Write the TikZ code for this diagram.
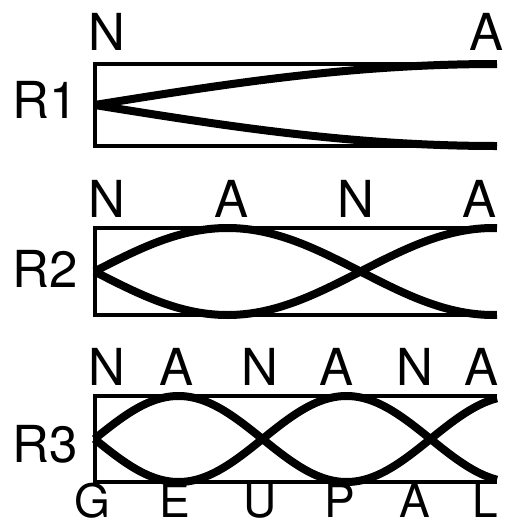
\documentclass[tikz,border=0pt]{standalone}
\usepackage{fontspec}
\setmainfont{TeX Gyre Heros}
\begin{document}
\begin{tikzpicture}[x=1pt,y=-1pt,
  lbl/.style={inner sep=0pt,anchor=base,font=\fontsize{51}{54}\selectfont},
  sitelbl/.style={inner sep=0pt,anchor=base,font=\fontsize{46}{48}\selectfont},
  rowlbl/.style={inner sep=0pt,anchor=base west,font=\fontsize{51}{54}\selectfont},
  frame/.style={line width=4pt,line join=miter},
  wave/.style={line width=8pt,line cap=butt}]
\useasboundingbox (0,0) rectangle (506,523);

% ---- R1: quarter wave ----
\draw[frame] (497,64) -- (94.5,64) -- (94.5,146) -- (497,146);
\draw[wave] plot[domain=0:402.5,samples=120] ({94.5+\x},{105-41*sin(\x/402.5*90)});
\draw[wave] plot[domain=0:402.5,samples=120] ({94.5+\x},{105+41*sin(\x/402.5*90)});
\node[rowlbl] (r1) at (12,118) {R1};
\node[lbl] (r1n) at (107,50) {N};
\node[lbl] (r1a) at (487,50) {A};

% ---- R2: three quarter waves ----
\draw[frame] (497,228) -- (94.5,228) -- (94.5,315) -- (497,315);
\draw[wave] plot[domain=0:402.5,samples=160] ({94.5+\x},{271.5-43.5*sin(\x/133*90)});
\draw[wave] plot[domain=0:402.5,samples=160] ({94.5+\x},{271.5+43.5*sin(\x/133*90)});
\node[rowlbl] (r2) at (12,287) {R2};
\node[lbl] (r2n1) at (107,217) {N};
\node[lbl] (r2a1) at (232,217) {A};
\node[lbl] (r2n2) at (356,217) {N};
\node[lbl] (r2a2) at (480,217) {A};

% ---- R3: five quarter waves ----
\draw[frame] (497,396) -- (94.5,396) -- (94.5,482) -- (497,482);
\draw[wave] plot[domain=0:402.5,samples=200] ({94.5+\x},{439-43*sin(\x/84*90)});
\draw[wave] plot[domain=0:402.5,samples=200] ({94.5+\x},{439+43*sin(\x/84*90)});
\node[rowlbl] (r3) at (12,462) {R3};
\node[lbl] (r3n1) at (107,385) {N};
\node[lbl] (r3a1) at (177,385) {A};
\node[lbl] (r3n2) at (260,385) {N};
\node[lbl] (r3a2) at (337,385) {A};
\node[lbl] (r3n3) at (415,385) {N};
\node[lbl] (r3a3) at (482,385) {A};

% ---- letters under R3 ----
\node[sitelbl] (g) at (92,517) {G};
\node[sitelbl] (e) at (175,517) {E};
\node[sitelbl] (u) at (260,517) {U};
\node[sitelbl] (p) at (340,517) {P};
\node[sitelbl] (a) at (415,517) {A};
\node[sitelbl] (l) at (485,517) {L};
\end{tikzpicture}
\end{document}
